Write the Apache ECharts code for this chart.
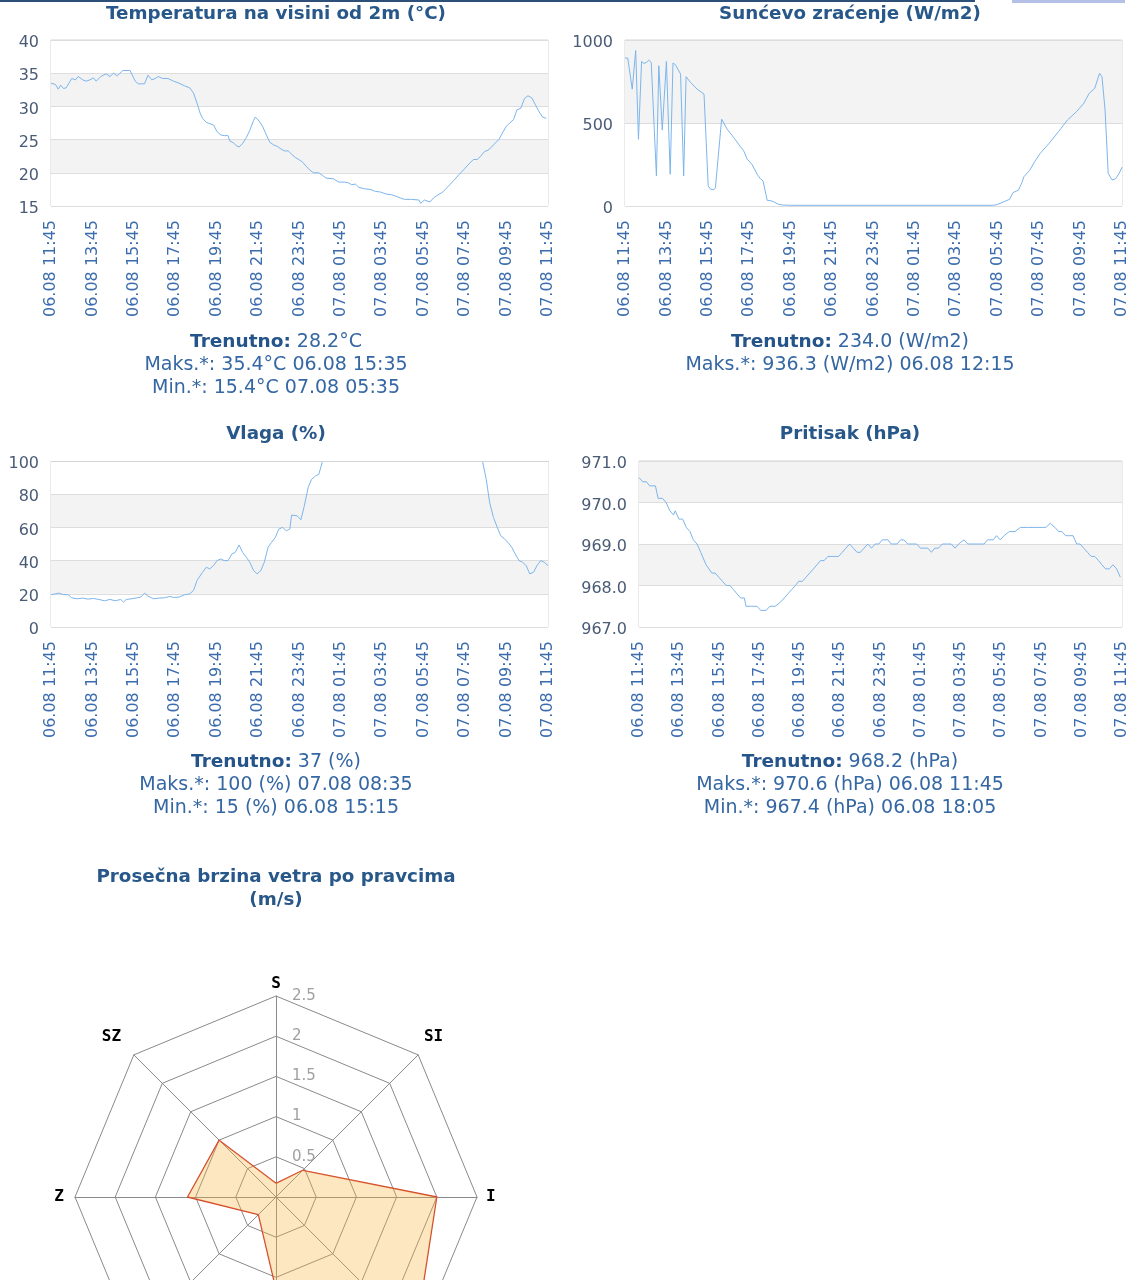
<!DOCTYPE html>
<html><head><meta charset="utf-8">
<script src="https://cdn.jsdelivr.net/npm/echarts@6/dist/echarts.min.js"></script>
<style>html,body{margin:0;padding:0;background:#fff}#c{width:1140px;height:1280px}</style>
</head><body><div id="c"></div>
<script>
// ---- data (minutes since 06.08 11:45, value) ----
const tickLabels = ['06.08 11:45','06.08 13:45','06.08 15:45','06.08 17:45','06.08 19:45','06.08 21:45','06.08 23:45','07.08 01:45','07.08 03:45','07.08 05:45','07.08 07:45','07.08 09:45','07.08 11:45'];

const tempData = [[0,33.5],[13,33.3],[21,32.6],[28,33.2],[36,32.7],[44,32.8],[60,34.2],[71,34.0],[79,34.5],[92,34.0],[102,33.8],[113,34.0],[123,34.3],[131,33.8],[144,34.5],[160,34.9],[171,34.5],[181,35.0],[192,34.6],[208,35.4],[229,35.4],[234,35.3],[244,33.8],[253,33.4],[271,33.4],[281,34.7],[292,34.0],[302,34.2],[311,34.5],[323,34.2],[339,34.2],[355,33.8],[371,33.5],[387,33.1],[402,32.8],[413,32.0],[423,30.5],[432,29.0],[439,28.2],[450,27.6],[460,27.4],[471,27.2],[481,26.2],[492,25.7],[502,25.6],[513,25.6],[518,24.8],[529,24.5],[539,24.0],[545,23.9],[555,24.4],[566,25.3],[576,26.4],[587,27.9],[592,28.4],[603,27.8],[613,27.0],[624,25.7],[634,24.6],[645,24.2],[655,24.0],[666,23.6],[676,23.3],[687,23.3],[697,22.8],[708,22.3],[718,22.0],[729,21.6],[739,21.0],[750,20.4],[761,20.0],[776,20.0],[787,19.6],[797,19.2],[818,19.1],[834,18.6],[850,18.6],[861,18.5],[871,18.2],[882,18.3],[892,17.8],[908,17.6],[924,17.5],[940,17.2],[955,17.1],[971,16.8],[987,16.7],[1003,16.4],[1013,16.2],[1024,16.0],[1045,16.0],[1066,15.9],[1071,15.4],[1082,15.9],[1098,15.6],[1108,16.2],[1119,16.6],[1135,17.1],[1150,17.9],[1166,18.8],[1182,19.7],[1198,20.6],[1214,21.5],[1224,22.0],[1235,22.0],[1245,22.5],[1256,23.2],[1266,23.4],[1277,23.9],[1287,24.5],[1298,25.0],[1308,26.0],[1319,27.0],[1329,27.5],[1340,28.0],[1350,29.5],[1361,29.7],[1372,31.2],[1382,31.6],[1393,31.3],[1403,30.3],[1414,29.2],[1424,28.4],[1435,28.2]];

const solarData = [[0,891],[8,891],[21,704],[31,936],[39,402],[48,871],[55,859],[62,865],[69,879],[76,865],[91,181],[98,845],[108,457],[120,871],[131,191],[139,861],[146,851],[161,795],[170,181],[177,779],[190,744],[209,704],[229,674],[241,121],[248,101],[257,97],[262,111],[280,523],[296,463],[315,412],[335,356],[344,332],[354,282],[368,251],[383,191],[392,165],[400,151],[412,34],[426,30],[445,10],[455,6],[480,4],[1065,4],[1077,8],[1087,16],[1098,26],[1114,40],[1124,80],[1140,96],[1150,141],[1156,177],[1172,213],[1187,267],[1203,317],[1229,378],[1256,448],[1282,518],[1308,568],[1329,618],[1345,679],[1361,709],[1375,799],[1382,779],[1391,578],[1400,197],[1411,157],[1421,163],[1432,197],[1440,234]];

const humData = [[0,19.4],[13,20],[23,20.4],[34,19.6],[50,19.4],[60,17.6],[76,17],[92,17.4],[107,16.8],[123,17.2],[139,16.6],[155,15.8],[171,16.6],[186,15.8],[202,16.6],[210,15],[218,16.6],[234,17],[250,17.6],[260,18],[271,20.4],[281,18.6],[297,17],[313,17.4],[329,17.6],[344,18.4],[355,17.8],[371,18],[387,19.4],[402,20],[413,22],[423,28],[439,33],[450,36],[460,35],[471,37],[481,40],[492,41],[502,40],[513,40],[524,44],[534,45],[545,49.4],[555,45],[566,42],[576,39],[587,34],[597,32],[608,34],[618,39],[629,48],[639,51],[650,54],[660,59],[671,60],[682,58],[692,59],[697,67.4],[713,67],[724,64.6],[734,73],[745,84],[755,89],[766,91],[776,92],[787,100],[1000,100],[1250,100],[1261,89],[1271,75],[1282,66],[1293,60],[1303,55],[1314,53],[1324,51],[1335,48],[1345,44],[1356,40],[1366,39],[1377,37],[1387,32],[1398,33],[1408,37],[1419,40],[1429,39],[1440,37]];

const presData = [[0,970.6],[11,970.5],[22,970.5],[32,970.4],[49,970.4],[57,970.1],[70,970.1],[81,970.0],[92,969.8],[103,969.7],[108,969.8],[119,969.6],[130,969.6],[141,969.4],[152,969.3],[162,969.1],[173,969.0],[184,968.8],[200,968.5],[217,968.3],[227,968.3],[238,968.2],[249,968.1],[260,968.0],[271,968.0],[282,967.9],[292,967.8],[303,967.7],[314,967.7],[319,967.5],[336,967.5],[352,967.5],[363,967.4],[379,967.4],[390,967.5],[406,967.5],[422,967.6],[433,967.7],[444,967.8],[455,967.9],[466,968.0],[476,968.1],[487,968.1],[498,968.2],[509,968.3],[520,968.4],[531,968.5],[541,968.6],[552,968.6],[563,968.7],[579,968.7],[595,968.7],[606,968.8],[617,968.9],[628,969.0],[639,968.9],[650,968.8],[660,968.8],[671,968.9],[682,969.0],[693,968.9],[704,969.0],[715,969.0],[725,969.1],[742,969.1],[752,969.0],[769,969.0],[780,969.1],[790,969.1],[801,969.0],[817,969.0],[828,969.0],[839,968.9],[850,968.9],[861,968.9],[872,968.8],[882,968.9],[893,968.9],[904,969.0],[920,969.0],[931,969.0],[942,968.9],[953,969.0],[969,969.1],[980,969.0],[996,969.0],[1012,969.0],[1029,969.0],[1039,969.1],[1056,969.1],[1066,969.2],[1077,969.1],[1088,969.2],[1104,969.3],[1121,969.3],[1137,969.4],[1158,969.4],[1180,969.4],[1202,969.4],[1213,969.4],[1226,969.5],[1240,969.4],[1251,969.3],[1261,969.3],[1272,969.2],[1283,969.2],[1294,969.2],[1305,969.0],[1315,969.0],[1326,968.9],[1337,968.8],[1348,968.7],[1359,968.7],[1370,968.6],[1380,968.5],[1391,968.4],[1402,968.4],[1413,968.5],[1424,968.4],[1435,968.2]];

// wind rose (counter-clockwise from north)
const windDirs = ['S','SZ','Z','JZ','J','JI','I','SI'];
const windValues = [0.17, 1.0, 1.1, 0.31, 1.15, 2.45, 2.0, 0.47];
const windMax = 2.5;

const chartTitles = ['Temperatura na visini od 2m (°C)','Sunćevo zraćenje (W/m2)','Vlaga (%)','Pritisak (hPa)'];
const infoTexts = [
  ['28.2°C','Maks.*: 35.4°C 06.08 15:35','Min.*: 15.4°C 07.08 05:35'],
  ['234.0 (W/m2)','Maks.*: 936.3 (W/m2) 06.08 12:15'],
  ['37 (%)','Maks.*: 100 (%) 07.08 08:35','Min.*: 15 (%) 06.08 15:15'],
  ['968.2 (hPa)','Maks.*: 970.6 (hPa) 06.08 11:45','Min.*: 967.4 (hPa) 06.08 18:05']
];
const yRanges = [[15,40,5],[0,1000,500],[0,100,20],[967,971,1]];

// ---- layout ----
const FONT = 'DejaVu Sans';
const TITLE_C = '#285789', YLAB_C = '#4a5b76', XLAB_C = '#3b6cae', INFO_C = '#3567a3';
const grids = [
  {left:51, top:40, width:497, height:166},
  {left:625, top:40, width:497, height:166},
  {left:51, top:461, width:497, height:166},
  {left:639, top:461, width:483, height:166}
];
const centersX = [276, 850, 276, 850];
const titleTops = [3, 3, 423, 423];
const infoTops = [331, 331, 751, 751];
const seriesData = [tempData, solarData, humData, presData];
// per-direction label style nudges around the rose
const nameStyles = {
  S: {}, J: {}, JI: {}, JZ: {},
  SZ: {verticalAlign:'bottom', lineHeight:30, padding:[0,10,0,0]},
  SI: {verticalAlign:'bottom', lineHeight:30, padding:[0,0,0,3]},
  Z: {padding:[0,7,0,0]},
  I: {padding:[0,0,0,5]}
};

const hg = grids[2];
const option = {
  backgroundColor: '#fff',
  animation: false,
  title: [],
  grid: grids.map(g => Object.assign({show:true, borderColor:'#d4d4d4', borderWidth:1, backgroundColor:'transparent'}, g)),
  xAxis: [], yAxis: [], series: [],
  radar: {
    center: [276, 1197], radius: 201, startAngle: 90, shape: 'polygon', splitNumber: 5,
    indicator: windDirs.map((d, i) => {
      const o = {name: d, min: 0, max: windMax, nameTextStyle: nameStyles[d]};
      if (i === 0) o.axisLabel = {show: true, color:'#a0a0a0', fontSize: 15, fontFamily: FONT, margin: -16, align:'left',
        formatter: v => v === 0 ? '' : String(v)};
      return o;
    }),
    axisName: {color:'#000', fontWeight:'bold', fontSize:16, fontFamily:'DejaVu Sans Mono'},
    nameGap: 4,
    splitLine: {lineStyle: {color:'#8a8a8a', width:1}},
    splitArea: {show: false},
    axisLine: {lineStyle: {color:'#8a8a8a', width:1}},
    axisLabel: {show: false}
  },
  graphic: [
    {type:'rect', shape:{x:0, y:0, width:975, height:2}, style:{fill:'#2d5078'}},
    {type:'rect', shape:{x:1012, y:0, width:113, height:3}, style:{fill:'#b4c0e6'}},
    // plot border drawn above the humidity series (the line at 100 % sits under the border)
    {type:'rect', z:100, shape:{x:hg.left, y:hg.top-2, width:hg.width, height:2}, style:{fill:'#ffffff'}},
    {type:'rect', z:100, shape:{x:hg.left, y:hg.top, width:hg.width+1, height:1}, style:{fill:'#d4d4d4'}}
  ]
};

for (let i = 0; i < 4; i++) {
  option.title.push({
    text: chartTitles[i], left: centersX[i], top: titleTops[i], textAlign: 'center', padding: 0,
    textStyle: {color: TITLE_C, fontSize: 18.3, fontWeight: 'bold', fontFamily: FONT, lineHeight: 22}
  });
  const lines = infoTexts[i];
  option.title.push({
    text: '{b|Trenutno:} ' + lines[0] + (lines.length > 1 ? '\n' + lines.slice(1).join('\n') : ''),
    left: centersX[i], top: infoTops[i], textAlign: 'center', padding: 0,
    textStyle: {color: INFO_C, fontSize: 19, fontWeight: 'normal', fontFamily: FONT, lineHeight: 23,
      rich: {b: {fontWeight: 'bold', color: '#25548a', fontSize: 18.5, fontFamily: FONT, lineHeight: 23}}}
  });
  option.xAxis.push({
    type: 'value', gridIndex: i, min: 0, max: 1440, interval: 120,
    axisLine: {show: false}, axisTick: {show: false}, splitLine: {show: false},
    axisLabel: {rotate: 90, margin: 14, color: XLAB_C, fontSize: 16, fontFamily: FONT,
      showMinLabel: true, showMaxLabel: true, hideOverlap: false,
      formatter: v => tickLabels[Math.round(v / 120)]}
  });
  const yr = yRanges[i];
  option.yAxis.push({
    type: 'value', gridIndex: i, min: yr[0], max: yr[1], interval: yr[2],
    axisLine: {show: false}, axisTick: {show: false},
    splitLine: {show: true, lineStyle: {color: '#dddddd', width: 1}},
    splitArea: {show: true, areaStyle: {color: ['#ffffff', '#f3f3f3']}},
    axisLabel: {color: YLAB_C, fontSize: 16, fontFamily: FONT, margin: 12,
      verticalAlign: 'top', lineHeight: 6,
      showMinLabel: true, showMaxLabel: true,
      formatter: i === 3 ? (v => v.toFixed(1)) : (v => String(v))}
  });
  option.series.push({
    type: 'line', xAxisIndex: i, yAxisIndex: i, data: seriesData[i],
    symbol: 'none', showSymbol: false, lineStyle: {color: '#7cb5ec', width: 1}, z: 2
  });
}

option.title.push({
  text: 'Prosečna brzina vetra po pravcima\n(m/s)', left: 276, top: 866, textAlign: 'center', padding: 0,
  textStyle: {color: TITLE_C, fontSize: 18.3, fontWeight: 'bold', fontFamily: FONT, lineHeight: 23}
});

option.series.push({
  type: 'radar', radarIndex: 0, symbol: 'none',
  lineStyle: {color: '#d0402a', width: 1.3},
  areaStyle: {color: 'rgba(248,178,60,0.45)'},
  data: [{value: windValues, name: 'Vetar'}]
});

const chart = echarts.init(document.getElementById('c'), null, {renderer: 'canvas'});
chart.setOption(option);
</script></body></html>
